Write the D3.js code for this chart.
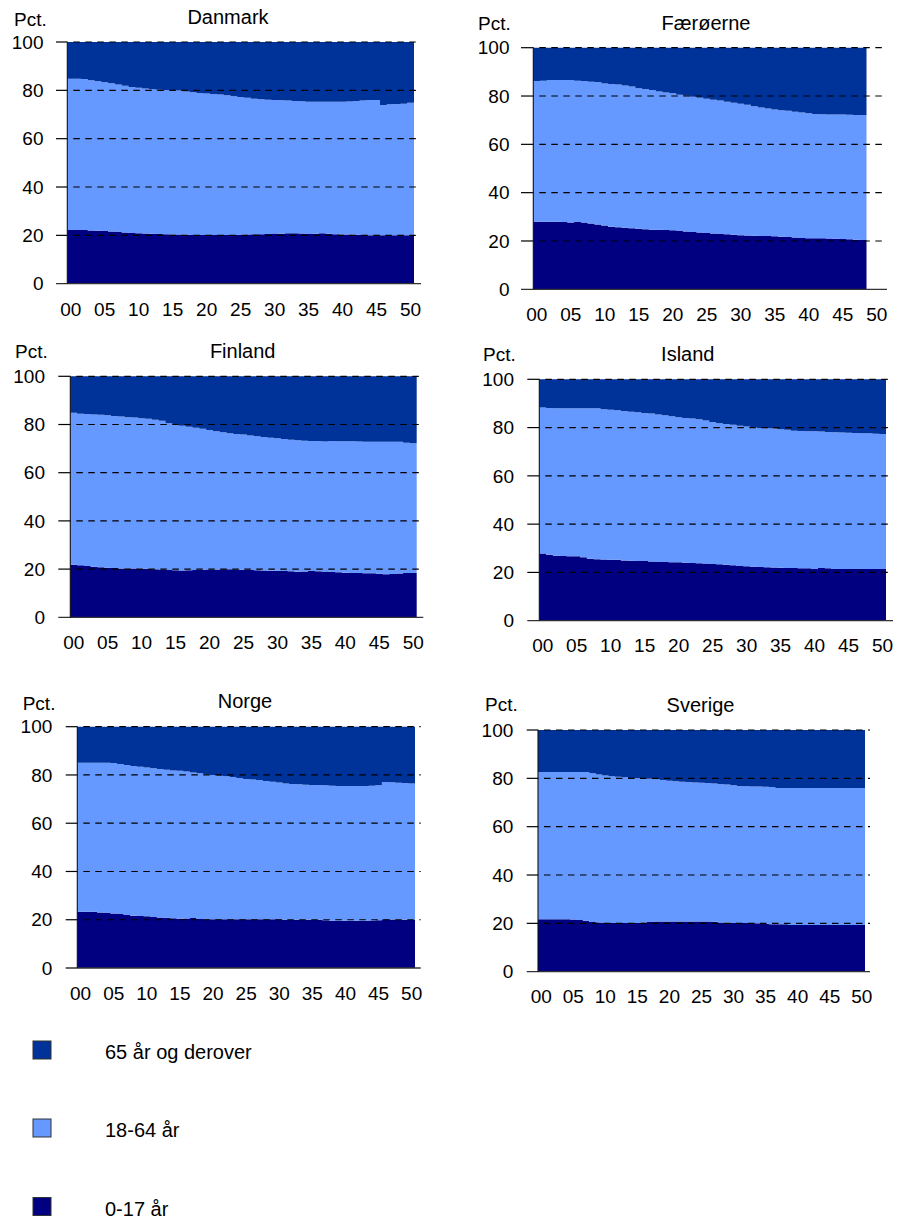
<!DOCTYPE html>
<html><head><meta charset="utf-8">
<script src="https://cdn.jsdelivr.net/npm/d3@7"></script>
<style>
body{margin:0;background:#fff}
svg{display:block}
text{font-family:"Liberation Sans",Arial,Helvetica,sans-serif;fill:#000}
</style>
</head><body>
<svg id="chart" width="898" height="1221"></svg>
<script>
// ---------- DATA ----------
const years = [2000,2001,2002,2003,2004,2005,2006,2007,2008,2009,2010,2011,2012,2013,2014,2015,2016,2017,2018,2019,2020,2021,2022,2023,2024,2025,2026,2027,2028,2029,2030,2031,2032,2033,2034,2035,2036,2037,2038,2039,2040,2041,2042,2043,2044,2045,2046,2047,2048,2049,2050];
const xTickYears = [2000,2005,2010,2015,2020,2025,2030,2035,2040,2045,2050];
const xTickLabels = ["00","05","10","15","20","25","30","35","40","45","50"];
const yTicks = [0,20,40,60,80,100];
const groupLabels = ["65 år og derover","18-64 år","0-17 år"];
const groupColors = ["#003399","#6699FF","#000080"];

// share 0-17 år and 65 år og derover (pct.), per year from 2000
const danmarkYoung = [22.2,22.2,22.2,22.0,21.9,21.8,21.6,21.4,21.2,21.0,20.9,20.8,20.7,20.6,20.5,20.4,20.4,20.3,20.2,20.2,20.1,20.1,20.1,20.1,20.2,20.3,20.4,20.5,20.5,20.6,20.8,20.7,20.9,20.9,20.8,20.6,20.7,20.9,20.7,20.5,20.4,20.4,20.3,20.1,20.0,20.0,20.0,20.0,20.0,20.0,20.0];
const danmarkOld = [15.2,15.2,15.3,15.8,16.2,16.7,17.1,17.6,18.1,18.6,18.9,19.2,19.5,19.8,19.9,20.0,20.1,20.5,20.8,21.1,21.3,21.5,21.7,22.0,22.4,22.8,23.1,23.5,23.7,23.9,24.0,24.1,24.2,24.4,24.5,24.7,24.7,24.7,24.7,24.7,24.7,24.6,24.4,24.2,24.0,24.0,26.1,25.8,25.7,25.5,25.1];

const faeroerneYoung = [28.0,28.0,28.0,28.0,27.9,27.6,27.9,27.6,27.2,26.8,26.4,25.9,25.7,25.5,25.3,25.1,24.9,24.7,24.6,24.5,24.4,24.1,23.9,23.7,23.5,23.3,23.1,22.9,22.8,22.6,22.4,22.3,22.2,22.1,22.1,22.0,21.8,21.6,21.4,21.2,21.1,21.1,21.1,21.0,20.9,20.8,20.7,20.5,20.4];
const faeroerneOld = [13.8,13.7,13.4,13.4,13.4,13.4,13.7,13.8,14.1,14.2,14.8,15.0,15.2,15.6,16.1,16.8,17.1,17.5,18.1,18.5,18.9,19.5,19.9,20.3,20.7,21.1,21.5,21.9,22.4,22.8,23.2,23.6,24.2,24.7,25.2,25.6,25.9,26.1,26.5,26.8,27.1,27.4,27.5,27.6,27.6,27.6,27.8,27.9,27.9];

const finlandYoung = [21.8,21.6,21.3,21.0,20.8,20.6,20.5,20.3,20.2,20.2,20.1,20.1,19.9,19.8,19.6,19.5,19.4,19.5,19.6,19.7,19.8,19.8,19.9,19.9,19.8,19.7,19.6,19.5,19.4,19.3,19.3,19.2,19.1,18.9,19.0,19.2,19.1,19.0,18.8,18.7,18.5,18.4,18.4,18.3,18.3,18.1,17.9,18.0,18.2,18.4,18.4];
const finlandOld = [15.1,15.5,15.6,15.8,16.0,16.2,16.5,16.7,17.0,17.1,17.4,17.6,18.0,18.4,19.5,20.0,20.5,20.9,21.3,21.8,22.3,22.8,23.2,23.6,23.9,24.2,24.6,24.9,25.2,25.5,25.7,26.0,26.3,26.5,26.7,26.8,26.8,27.1,26.8,26.9,26.9,27.0,27.1,27.2,27.2,27.2,27.2,27.2,27.2,27.6,27.8];

const islandYoung = [27.8,27.3,26.9,26.8,26.7,26.7,26.3,25.7,25.5,25.4,25.3,25.2,24.9,24.8,24.7,24.7,24.5,24.3,24.3,24.2,24.2,24.0,23.9,23.8,23.7,23.5,23.4,23.2,23.0,22.7,22.6,22.4,22.2,22.1,22.0,21.9,21.8,21.8,21.7,21.7,21.4,21.8,21.7,21.4,21.4,21.4,21.4,21.4,21.4,21.4,21.4];
const islandOld = [11.7,11.9,12.0,12.0,12.0,12.0,12.0,12.0,12.0,12.4,12.6,12.8,13.1,13.4,13.7,14.0,14.2,14.6,14.9,15.3,15.7,16.0,16.2,16.6,17.1,17.7,18.2,18.5,18.8,19.2,19.6,19.9,20.2,20.3,20.4,20.7,20.9,21.3,21.4,21.5,21.5,21.6,21.8,21.9,22.0,22.1,22.2,22.3,22.4,22.6,22.7];

const norgeYoung = [23.3,23.3,23.3,23.0,22.8,22.6,22.4,22.0,21.7,21.6,21.4,21.1,20.9,20.8,20.6,20.4,20.5,20.7,20.3,20.2,20.2,20.2,20.2,20.2,20.2,20.2,20.2,20.2,20.2,20.2,20.2,20.0,20.0,20.0,20.0,20.0,20.0,19.8,19.6,19.6,19.6,19.6,19.6,19.6,19.7,19.8,20.2,20.1,20.0,20.0,20.0];
const norgeOld = [14.9,14.9,14.9,14.9,14.9,15.0,15.5,15.9,16.3,16.6,16.9,17.2,17.5,17.8,18.1,18.3,18.6,19.0,19.3,19.7,20.0,20.3,20.5,20.8,21.3,21.7,21.9,22.1,22.5,22.8,23.1,23.5,23.7,23.9,24.1,24.2,24.2,24.3,24.5,24.6,24.6,24.6,24.6,24.6,24.5,24.3,22.9,23.0,23.2,23.3,23.5];

const sverigeYoung = [21.7,21.7,21.7,21.7,21.7,21.6,21.4,21.1,20.6,20.4,20.2,20.1,20.1,20.1,20.1,20.2,20.4,20.6,20.8,20.8,20.8,20.8,20.8,20.8,20.8,20.8,20.8,20.7,20.4,20.3,20.2,20.1,20.1,20.0,20.0,19.8,19.6,19.6,19.6,19.3,19.3,19.3,19.3,19.3,19.3,19.3,19.3,19.3,19.3,19.3,19.3];
const sverigeOld = [17.4,17.4,17.4,17.4,17.4,17.4,17.4,17.4,17.9,18.4,18.8,19.1,19.3,19.6,19.9,20.0,20.1,20.2,20.4,20.7,21.0,21.2,21.4,21.5,21.7,21.8,21.9,22.1,22.3,22.6,22.9,23.2,23.3,23.4,23.4,23.5,23.6,24.0,24.0,24.0,24.0,24.0,24.0,24.0,24.0,24.0,24.0,24.0,24.0,24.0,24.0];

// ---------- LAYOUT ----------
const panels = [
  {title:"Danmark",   young:danmarkYoung,   old:danmarkOld,   band:[67.3,414],   y:[283.7,42],   grid:[56,421],     tickX:43.5, titleX:228,   titleY:24,  pctX:14,  pctY:26,  xLabY:316},
  {title:"Færøerne",  young:faeroerneYoung, old:faeroerneOld, band:[533.3,880.1],y:[289.3,47.7], grid:[521,887],    tickX:509.5,titleX:706,   titleY:29.5,pctX:478, pctY:30,  xLabY:320.5},
  {title:"Finland",   young:finlandYoung,   old:finlandOld,   band:[70.3,416.7], y:[617.3,376.3],grid:[58.3,423.3], tickX:45,   titleX:242.7, titleY:358.3,pctX:15, pctY:357.5,xLabY:649.3},
  {title:"Island",    young:islandYoung,    old:islandOld,    band:[539.3,886],  y:[620.7,379.3],grid:[527.3,893],  tickX:514,  titleX:687.8, titleY:361, pctX:483, pctY:360.7,xLabY:651.7},
  {title:"Norge",     young:norgeYoung,     old:norgeOld,     band:[77.3,415],   y:[968,726.7],  grid:[65.7,420.7], tickX:52.3, titleX:245,   titleY:708.3,pctX:22.7,pctY:710, xLabY:1000},
  {title:"Sverige",   young:sverigeYoung,   old:sverigeOld,   band:[538,865],    y:[971.7,730],  grid:[526.7,870],  tickX:513.3,titleX:700.5, titleY:711.7,pctX:485, pctY:710.7,xLabY:1003.3}
];

const svg = d3.select("#chart");

panels.forEach(p => {
  const g = svg.append("g");
  const x = d3.scaleBand().domain(years).range(p.band).paddingInner(0).paddingOuter(0);
  const y = d3.scaleLinear().domain([0,100]).range(p.y);
  const bw = x.bandwidth();

  const rows = p.young.map((v,i) => ({
    year: years[i],
    young: v,
    working: 100 - v - p.old[i],
    old: p.old[i]
  }));
  const stack = d3.stack().keys(["young","working","old"]);
  const series = stack(rows);
  const colorByKey = {young:groupColors[2], working:groupColors[1], old:groupColors[0]};

  const area = d3.area().x(d => d.x).y0(d => y(d.lo)).y1(d => y(d.hi));
  series.forEach(s => {
    const pts = [];
    s.forEach(d => {
      const x0 = x(d.data.year);
      pts.push({x:x0, lo:d[0], hi:d[1]});
      pts.push({x:x0 + bw, lo:d[0], hi:d[1]});
    });
    g.append("path").attr("d", area(pts)).attr("fill", colorByKey[s.key]);
  });

  // gridlines + tick marks
  yTicks.forEach(t => {
    if (t === 0) {
      g.append("line")
        .attr("x1", p.grid[0]).attr("x2", p.grid[1])
        .attr("y1", y(t)).attr("y2", y(t))
        .attr("stroke", "#333").attr("stroke-width", 1.3);
    } else {
      g.append("line")
        .attr("x1", p.grid[0]).attr("x2", p.band[0])
        .attr("y1", y(t)).attr("y2", y(t))
        .attr("stroke", "#000").attr("stroke-width", 1.2);
      g.append("line")
        .attr("x1", p.band[0]).attr("x2", p.grid[1])
        .attr("y1", y(t)).attr("y2", y(t))
        .attr("stroke", "#000").attr("stroke-width", 1.2)
        .attr("stroke-dasharray", "6.5,5.5").attr("stroke-dashoffset", -6);
    }
  });
  // y axis line
  g.append("line")
    .attr("x1", p.band[0]).attr("x2", p.band[0])
    .attr("y1", y(0)).attr("y2", y(100))
    .attr("stroke", "#111").attr("stroke-width", 1.1);

  // y tick labels
  g.selectAll("text.yt").data(yTicks).join("text")
    .attr("class","yt")
    .attr("x", p.tickX).attr("y", d => y(d)).attr("dy", "0.35em")
    .attr("text-anchor", "end").attr("font-size", 19)
    .text(d => d);

  // x tick labels
  g.selectAll("text.xt").data(xTickYears).join("text")
    .attr("class","xt")
    .attr("x", d => x(d) + bw/2).attr("y", p.xLabY)
    .attr("text-anchor", "middle").attr("font-size", 19)
    .text((d,i) => xTickLabels[i]);

  g.append("text").attr("x", p.titleX).attr("y", p.titleY)
    .attr("text-anchor","middle").attr("font-size", 20).text(p.title);
  g.append("text").attr("x", p.pctX).attr("y", p.pctY)
    .attr("font-size", 19).text("Pct.");
});

// legend
const legend = svg.append("g");
const legendY = [1041, 1119, 1197.5];
groupLabels.forEach((lab, i) => {
  legend.append("rect").attr("x", 33).attr("y", legendY[i]).attr("width", 18).attr("height", 18)
    .attr("fill", groupColors[i]).attr("stroke", "#333").attr("stroke-width", 1);
  legend.append("text").attr("x", 105).attr("y", legendY[i] + 18)
    .attr("font-size", 20).text(lab);
});
</script>
</body></html>
